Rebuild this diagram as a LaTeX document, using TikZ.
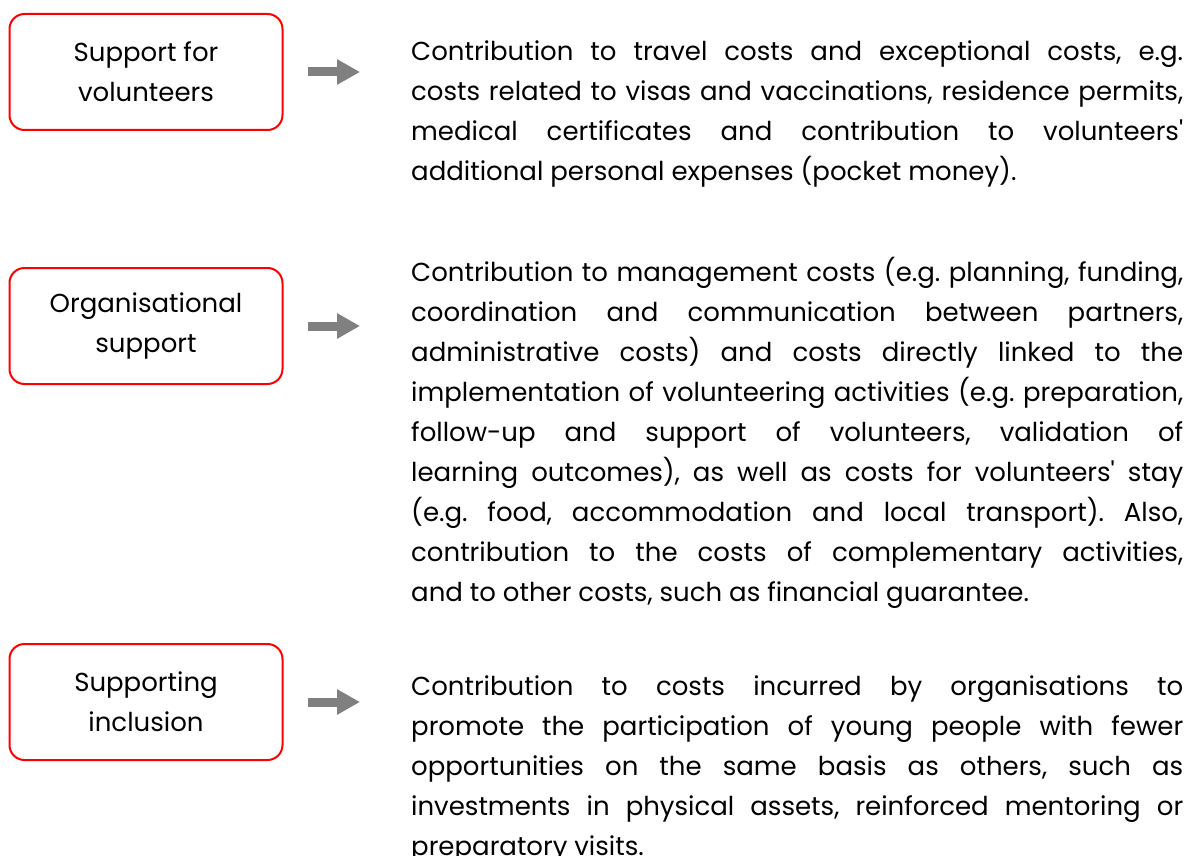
\documentclass[tikz,border=0pt]{standalone}
\usepackage{fontspec}
\setmainfont{Poppins}
\usepackage{tikz}
\usetikzlibrary{arrows.meta,calc}
\definecolor{boxred}{HTML}{FF0000}
\definecolor{arrowgrey}{HTML}{808080}
\frenchspacing

\begin{document}
\begin{tikzpicture}[x=1pt,y=-1pt,
  font=\fontsize{26}{40}\selectfont,
  cat/.style={rounded corners=15pt,draw=boxred,line width=2pt,align=center,minimum width=273pt,minimum height=116pt,inner sep=0pt},
  desc/.style={anchor=base west,text width=772pt,align=justify,inner sep=0pt},
  a/.style={-{Triangle[length=23pt,width=24pt]},line width=9pt,arrowgrey,shorten <=24pt,shorten >=51pt}]
\useasboundingbox (0,0) rectangle (1188,856);
\node[cat] (vol) at (146,72) {Support for\\volunteers};
\node[cat] (org) at (146,326) {Organisational\\support};
\node[cat] (inc) at (146,702) {Supporting\\inclusion};
\node[desc] (volt) at (411,61) {Contribution to travel costs and exceptional costs, e.g.\linebreak
costs related to visas and vaccinations, residence permits,\linebreak
medical certificates and contribution to volunteers\textquotesingle\linebreak
additional personal expenses (pocket money).};
\node[desc] (orgt) at (411,281) {Contribution to management costs (e.g. planning, funding,\linebreak
coordination and communication between partners,\linebreak
administrative costs) and costs directly linked to the\linebreak
implementation of volunteering activities (e.g. preparation,\linebreak
follow-up and support of volunteers, validation of\linebreak
learning outcomes), as well as costs for volunteers\textquotesingle{} stay\linebreak
(e.g. food, accommodation and local transport). Also,\linebreak
contribution to the costs of complementary activities,\linebreak
and to other costs, such as financial guarantee.};
\node[desc] (inct) at (411,695) {Contribution to costs incurred by organisations to\linebreak
promote the participation of young people with fewer\linebreak
opportunities on the same basis as others, such as\linebreak
investments in physical assets, reinforced mentoring or\linebreak
preparatory visits.};
\draw[a] (vol.east) -- (vol.east -| volt.west);
\draw[a] (org.east) -- (org.east -| orgt.west);
\draw[a] (inc.east) -- (inc.east -| inct.west);
\end{tikzpicture}
\end{document}
